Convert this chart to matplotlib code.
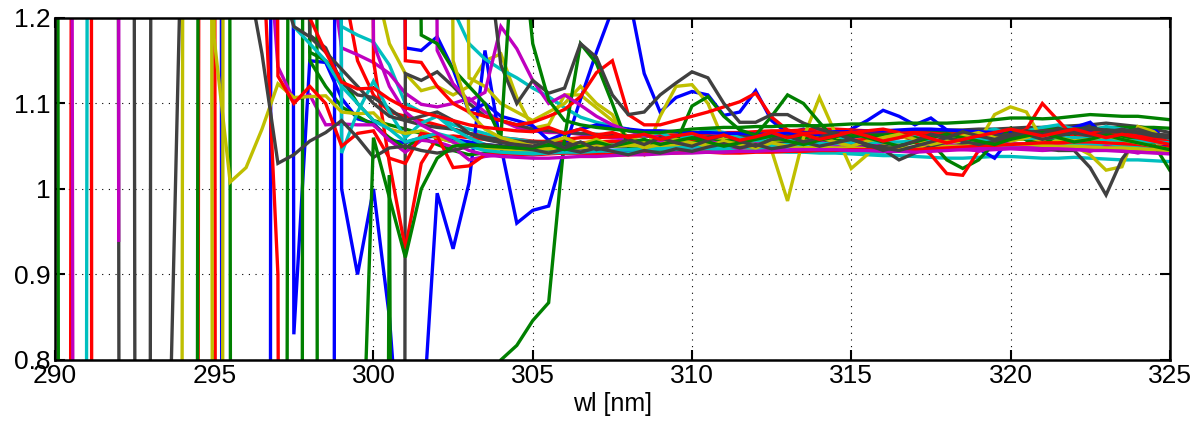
import numpy as np
import matplotlib
matplotlib.use("Agg")
import matplotlib.pyplot as plt

nan = np.nan

# wavelength grid of the ratio curves [nm]
wl = np.arange(290.0, 325.5, 0.5)

b1 = [12, 12, 12, 12, 12, 12, 12, 12, 12, 12,
      12, -12, -12, -12, 12, 0.83, 1.15, 1.148, 1.106, 1.082,
      1.077, 1.057, 1.054, 1.06, 1.062, 1.058, 1.055, 1.052, 1.05, 1.049,
      1.048, 1.048, 1.047, 1.046, 1.046, 1.045, 1.045, 1.044, 1.044, 1.045,
      1.052, 1.046, 1.055, 1.05, 1.058, 1.052, 1.06, 1.056, 1.062, 1.055,
      1.06, 1.064, 1.058, 1.066, 1.06, 1.062, 1.068, 1.06, 1.066, 1.058,
      1.065, 1.07, 1.064, 1.072, 1.068, 1.074, 1.066, 1.07, 1.06, 1.055, 1.05]
g1 = [5, -15, -15, -15, -15, -15, -15, -15, -15, -15,
      -15, -15, -15, -15, -5, 5, 1.16, 1.15, 1.13, 1.10,
      1.08, 1.075, 1.07, 1.065, 1.06, 1.055, 1.05, 1.05, 1.048, 1.047,
      1.047, 1.05, 1.05, 1.052, 1.055, 1.055, 1.056, 1.055, 1.055, 1.056,
      1.057, 1.058, 1.058, 1.06, 1.06, 1.06, 1.062, 1.062, 1.063, 1.062,
      1.062, 1.063, 1.063, 1.064, 1.065, 1.065, 1.063, 1.062, 1.063, 1.064,
      1.065, 1.066, 1.065, 1.064, 1.063, 1.062, 1.062, 1.061, 1.06, 1.058, 1.055]
r1 = [-12, 1.0, 12, -25, -25, -25, -25, -25, -12, 0.9,
      12, 12, 12, 12, 12, 12, 12, 5, 1.25, 1.15,
      1.11, 1.09, 1.085, 1.08, 1.075, 1.07, 1.065, 1.062, 1.06, 1.058,
      1.056, 1.055, 1.055, 1.054, 1.055, 1.056, 1.055, 1.054, 1.054, 1.056,
      1.055, 1.055, 1.056, 1.057, 1.056, 1.056, 1.057, 1.058, 1.058, 1.057,
      1.057, 1.058, 1.058, 1.06, 1.061, 1.062, 1.063, 1.064, 1.063, 1.063,
      1.064, 1.066, 1.068, 1.069, 1.07, 1.07, 1.069, 1.067, 1.066, 1.064, 1.062]
c1 = [nan, -12, 1.0, 12, 12, 12, 12, 12, 12, 12,
      12, 12, 12, 12, 12, 12, 5, 1.25, 1.19, 1.18,
      1.172, 1.145, 1.1, 1.09, 1.085, 1.075, 1.07, 1.065, 1.06, 1.058,
      1.055, 1.054, 1.052, 1.05, 1.049, 1.05, 1.05, 1.048, 1.047, 1.048,
      1.047, 1.046, 1.046, 1.045, 1.045, 1.044, 1.043, 1.043, 1.042, 1.042,
      1.041, 1.04, 1.039, 1.039, 1.038, 1.037, 1.036, 1.036, 1.037, 1.038,
      1.038, 1.037, 1.036, 1.036, 1.037, 1.036, 1.035, 1.034, 1.034, 1.033, 1.032]
m1 = [nan, 2.0, -8, -8, nan, nan, nan, nan, nan, nan,
      nan, nan, nan, nan, nan, nan, 8, 1.3, 1.165, 1.157,
      1.148, 1.135, 1.112, 1.099, 1.096, 1.1, 1.106, 1.09, 1.08, 1.072,
      1.068, 1.066, 1.066, 1.064, 1.062, 1.06, 1.058, 1.056, 1.055, 1.054,
      1.053, 1.052, 1.052, 1.051, 1.05, 1.05, 1.049, 1.049, 1.05, 1.05,
      1.05, 1.049, 1.048, 1.048, 1.049, 1.05, 1.05, 1.051, 1.052, 1.052,
      1.053, 1.053, 1.052, 1.052, 1.051, 1.05, 1.05, 1.049, 1.048, 1.047, 1.046]
y1 = [-12, -12, -12, -12, -12, -12, -12, -12, 1.0, 12,
      12, 12, 12, 12, 12, 12, 12, 12, 12, 12,
      1.25, 1.17, 1.135, 1.115, 1.12, 1.11, 1.12, 1.15, 1.158, 1.107,
      1.071, 1.075, 1.11, 1.11, 1.095, 1.08, 1.06, 1.055, 1.06, 1.065,
      1.066, 1.062, 1.058, 1.057, 1.057, 1.056, 1.055, 1.054, 1.054, 1.053,
      1.053, 1.052, 1.053, 1.054, 1.054, 1.055, 1.055, 1.056, 1.056, 1.057,
      1.058, 1.058, 1.057, 1.057, 1.056, 1.056, 1.055, 1.055, 1.054, 1.054, 1.053]
k1 = [12, 12, 12, 12, 1.0, -12, -12, -12, -12, -12,
      -12, -12, -12, -12, -12, -12, -12, -12, -12, -12,
      -12, -12, 1.135, 1.127, 1.137, 1.12, 1.1, 1.085, 1.08, 1.075,
      1.07, 1.068, 1.066, 1.065, 1.064, 1.063, 1.062, 1.062, 1.061, 1.06,
      1.06, 1.061, 1.062, 1.062, 1.063, 1.063, 1.064, 1.064, 1.065, 1.065,
      1.066, 1.066, 1.066, 1.067, 1.068, 1.068, 1.069, 1.069, 1.07, 1.07,
      1.071, 1.072, 1.072, 1.073, 1.074, 1.075, 1.077, 1.075, 1.073, 1.07, 1.066]
b2 = [12, 12, 12, 12, 12, 12, 12, 12, 12, 12,
      12, 12, 12, 12, 12, 12, 12, 12, 1.0, 0.90,
      1.0, 0.85, 0.6, 0.7, 0.995, 0.93, 1.007, 1.162, 1.05, 0.96,
      0.975, 0.98, 1.047, 1.105, 1.16, 1.21, 1.23, 1.135, 1.09, 1.107,
      1.114, 1.11, 1.086, 1.09, 1.115, 1.08, 1.065, 1.07, 1.062, 1.06,
      1.07, 1.08, 1.092, 1.085, 1.075, 1.083, 1.069, 1.055, 1.047, 1.036,
      1.06, 1.065, 1.063, 1.067, 1.072, 1.078, 1.06, 1.062, 1.055, 1.071, 1.05]
g2 = [-12, -12, -12, -12, -12, -12, -12, -12, -12, 1.5,
      12, 12, 12, 12, 12, 5, 1.15, 1.12, 1.096, 1.085,
      1.075, 1.06, 1.048, 1.06, 1.052, 1.045, 1.04, 1.042, 1.043, 1.044,
      1.045, 1.046, 1.047, 1.048, 1.049, 1.05, 1.051, 1.052, 1.052, 1.053,
      1.054, 1.055, 1.056, 1.057, 1.057, 1.058, 1.059, 1.06, 1.06, 1.061,
      1.062, 1.062, 1.063, 1.064, 1.064, 1.065, 1.066, 1.066, 1.067, 1.067,
      1.068, 1.068, 1.069, 1.07, 1.07, 1.071, 1.071, 1.072, 1.072, 1.072, 1.071]
r2 = [10, 10, 10, 10, 10, 10, 10, 10, 10, 10,
      2.0, -18, nan, nan, nan, nan, nan, nan, nan, 6,
      1.15, 1.03, 0.93, 1.03, 1.06, 1.062, 1.06, 1.058, 1.056, 1.055,
      1.055, 1.056, 1.058, 1.06, 1.06, 1.061, 1.062, 1.062, 1.063, 1.063,
      1.064, 1.065, 1.066, 1.066, 1.067, 1.068, 1.068, 1.069, 1.07, 1.07,
      1.069, 1.068, 1.068, 1.067, 1.066, 1.065, 1.064, 1.065, 1.066, 1.066,
      1.067, 1.068, 1.068, 1.067, 1.066, 1.065, 1.064, 1.063, 1.062, 1.06, 1.058]
c2 = [3, 3, 3, 3, 3, 3, 3, 3, 3, 3,
      3, 3, 3, 3, 3, 3, 3, 3, 3, 3,
      3, 3, 3, 3, 3, 1.21, 1.17, 1.152, 1.14, 1.13,
      1.118, 1.108, 1.095, 1.084, 1.078, 1.074, 1.07, 1.062, 1.066, 1.058,
      1.063, 1.07, 1.066, 1.06, 1.055, 1.062, 1.058, 1.052, 1.057, 1.062,
      1.056, 1.05, 1.055, 1.06, 1.064, 1.058, 1.054, 1.06, 1.066, 1.07,
      1.064, 1.068, 1.072, 1.075, 1.07, 1.068, 1.073, 1.07, 1.066, 1.062, 1.058]
m2 = [nan, nan, nan, nan, 0.94, 60, 5, 5, 5, 5,
      5, 5, 5, 1.4, 1.143, 1.104, 1.11, 1.075, 1.076, 1.075,
      1.075, 1.057, 1.043, 1.057, 1.055, 1.049, 1.034, 1.038, 1.04, 1.042,
      1.04, 1.042, 1.045, 1.044, 1.043, 1.045, 1.046, 1.045, 1.044, 1.046,
      1.047, 1.046, 1.045, 1.046, 1.047, 1.046, 1.045, 1.046, 1.047, 1.046,
      1.045, 1.046, 1.045, 1.044, 1.045, 1.046, 1.047, 1.046, 1.045, 1.046,
      1.047, 1.046, 1.045, 1.046, 1.047, 1.048, 1.047, 1.046, 1.045, 1.044, 1.043]
y2 = [12, 12, 12, 12, 12, 12, 12, 12, 12, 12,
      -0.8, -5, nan, nan, nan, nan, nan, nan, nan, nan,
      nan, nan, nan, nan, nan, 3, 1.13, 1.12, 1.10, 1.09,
      1.08, 1.09, 1.1, 1.12, 1.1, 1.087, 1.053, 1.04, 1.085, 1.12,
      1.122, 1.10, 1.056, 1.048, 1.045, 1.045, 0.986, 1.06, 1.107, 1.065,
      1.024, 1.04, 1.06, 1.063, 1.055, 1.052, 1.05, 1.052, 1.055, 1.087,
      1.096, 1.09, 1.057, 1.055, 1.05, 1.04, 1.022, 1.026, 1.073, 1.067, 1.052]
k2 = [12, 12, 12, 12, 12, 1.0, -12, nan, nan, nan,
      nan, nan, nan, nan, nan, 6, 1.18, 1.165, 1.124, 1.11,
      1.107, 1.094, 1.08, 1.075, 1.072, 1.07, 1.065, 1.06, 1.058, 1.056,
      1.055, 1.054, 1.053, 1.052, 1.052, 1.051, 1.05, 1.05, 1.049, 1.05,
      1.05, 1.051, 1.052, 1.053, 1.052, 1.053, 1.054, 1.055, 1.055, 1.054,
      1.053, 1.052, 1.05, 1.048, 1.047, 1.048, 1.05, 1.052, 1.053, 1.052,
      1.051, 1.05, 1.048, 1.045, 1.045, 1.025, 0.993, 1.035, 1.06, 1.062, 1.06]
b3 = [-10, -10, -10, -10, -10, -10, -10, -10, -10, -10,
      -10, -10, -10, -10, -10, -10, -10, -10, 10, 10,
      10, 5, 1.165, 1.162, 1.178, 1.14, 1.09, 1.1, 1.085, 1.08,
      1.074, 1.057, 1.065, 1.07, 1.075, 1.072, 1.07, 1.068, 1.068, 1.067,
      1.066, 1.066, 1.065, 1.065, 1.064, 1.064, 1.065, 1.066, 1.066, 1.067,
      1.067, 1.068, 1.068, 1.069, 1.07, 1.07, 1.069, 1.068, 1.067, 1.066,
      1.066, 1.066, 1.067, 1.067, 1.068, 1.068, 1.066, 1.064, 1.062, 1.058, 1.055]
g3 = [12, 12, 12, 12, 12, 12, 12, 12, 12, 12,
      12, 1.0, -12, -12, -12, -12, 12, -12, -12, -12,
      -3, 1.016, -3, -5, -5, -5, -2, 0.4, 0.8, 0.817,
      0.846, 0.867, 1.06, 1.17, 1.147, 1.1, 1.05, 1.047, 1.043, 1.054,
      1.097, 1.108, 1.085, 1.069, 1.063, 1.085, 1.11, 1.1, 1.078, 1.057,
      1.055, 1.05, 1.045, 1.05, 1.06, 1.055, 1.034, 1.024, 1.034, 1.054,
      1.071, 1.057, 1.052, 1.063, 1.069, 1.071, 1.067, 1.061, 1.057, 1.052, 1.022]
r3 = [nan, nan, nan, nan, nan, nan, nan, nan, nan, nan,
      nan, nan, 5, 1.3, 0.9, -5, nan, nan, nan, nan,
      nan, 5, 1.15, 1.148, 1.12, 1.1, 1.09, 1.085, 1.08, 1.075,
      1.078, 1.085, 1.093, 1.108, 1.136, 1.15, 1.087, 1.075, 1.075, 1.08,
      1.085, 1.09, 1.096, 1.102, 1.112, 1.084, 1.069, 1.065, 1.066, 1.065,
      1.066, 1.068, 1.07, 1.066, 1.055, 1.04, 1.018, 1.016, 1.045, 1.055,
      1.06, 1.07, 1.1, 1.08, 1.06, 1.065, 1.068, 1.065, 1.062, 1.06, 1.055]
c3 = [8, 8, 8, 8, 8, 8, 8, 8, 8, 8,
      8, 8, 8, 8, 8, 8, 8, 8, 1.042, 1.09,
      1.126, 1.09, 1.06, 1.077, 1.085, 1.07, 1.06, 1.052, 1.048, 1.045,
      1.044, 1.043, 1.042, 1.042, 1.041, 1.041, 1.042, 1.043, 1.043, 1.044,
      1.045, 1.046, 1.047, 1.048, 1.048, 1.047, 1.046, 1.045, 1.045, 1.044,
      1.044, 1.043, 1.043, 1.044, 1.045, 1.046, 1.047, 1.048, 1.049, 1.05,
      1.05, 1.051, 1.052, 1.052, 1.053, 1.053, 1.052, 1.051, 1.05, 1.048, 1.046]
m3 = [5, 5, 5, 5, 5, 5, 5, 5, 5, 5,
      5, 5, 5, 5, 5, 5, 5, 5, 5, 5,
      5, 5, 5, 5, 1.162, 1.123, 1.103, 1.113, 1.19, 1.164,
      1.127, 1.1, 1.11, 1.098, 1.085, 1.075, 1.068, 1.063, 1.06, 1.055,
      1.05, 1.056, 1.052, 1.047, 1.053, 1.05, 1.045, 1.05, 1.055, 1.05,
      1.046, 1.051, 1.055, 1.05, 1.044, 1.048, 1.053, 1.049, 1.044, 1.05,
      1.055, 1.05, 1.046, 1.052, 1.048, 1.044, 1.05, 1.046, 1.042, 1.047, 1.043]
y3 = [5, 5, 5, 5, 5, 5, 5, 5, 5, 5,
      1.176, 1.008, 1.025, 1.07, 1.123, 1.107, 1.108, 1.109, 1.09, 1.088,
      1.089, 1.07, 1.065, 1.068, 1.06, 1.055, 1.05, 1.048, 1.047, 1.046,
      1.046, 1.047, 1.048, 1.048, 1.05, 1.05, 1.051, 1.05, 1.05, 1.051,
      1.052, 1.052, 1.053, 1.052, 1.052, 1.051, 1.05, 1.05, 1.049, 1.048,
      1.048, 1.047, 1.047, 1.048, 1.048, 1.049, 1.05, 1.05, 1.051, 1.051,
      1.052, 1.052, 1.051, 1.05, 1.05, 1.049, 1.048, 1.048, 1.047, 1.046, 1.045]
k3 = [-15, -15, -15, -15, -15, -15, 1.0, 15, 15, 15,
      15, 15, 15, 15, 15, 15, 15, 15, 15, 15,
      15, 15, 15, 15, 15, 15, 5, 1.3, 1.145, 1.10,
      1.127, 1.112, 1.118, 1.17, 1.154, 1.11, 1.087, 1.09, 1.11, 1.124,
      1.137, 1.13, 1.10, 1.078, 1.078, 1.087, 1.087, 1.077, 1.07, 1.065,
      1.058, 1.05, 1.046, 1.034, 1.042, 1.05, 1.055, 1.058, 1.06, 1.062,
      1.064, 1.066, 1.068, 1.068, 1.07, 1.07, 1.069, 1.068, 1.066, 1.064, 1.063]
g4 = [3, 3, 3, 3, 3, 3, 3, 3, 3, 3,
      3, 3, 3, 3, 3, 3, 3, 3, 3, 3,
      3, 3, 3, 1.18, 1.17, 1.14, 1.12, 1.10, 1.06, 1.35,
      1.17, 1.104, 1.08, 1.075, 1.072, 1.07, 1.068, 1.066, 1.066, 1.068,
      1.07, 1.071, 1.072, 1.072, 1.073, 1.073, 1.074, 1.074, 1.074, 1.075,
      1.076, 1.076, 1.076, 1.077, 1.077, 1.077, 1.077, 1.078, 1.079, 1.081,
      1.083, 1.083, 1.082, 1.083, 1.085, 1.087, 1.086, 1.085, 1.085, 1.083, 1.081]
r4 = [5, 5, 5, 5, 5, 5, 5, 5, 5, 5,
      5, 5, 5, 5, 1.132, 1.1, 1.12, 1.1, 1.05, 1.065,
      1.068, 1.036, 1.03, 1.065, 1.062, 1.025, 1.027, 1.04, 1.042, 1.04,
      1.04, 1.041, 1.042, 1.042, 1.041, 1.04, 1.04, 1.041, 1.042, 1.042,
      1.043, 1.043, 1.042, 1.042, 1.043, 1.043, 1.044, 1.044, 1.045, 1.045,
      1.046, 1.046, 1.045, 1.045, 1.046, 1.047, 1.048, 1.049, 1.05, 1.051,
      1.052, 1.053, 1.054, 1.054, 1.055, 1.055, 1.054, 1.053, 1.052, 1.05, 1.048]
c4 = [3, 3, 3, 3, 3, 3, 3, 3, 3, 3,
      3, 3, 3, 3, 3, 1.19, 1.17, 1.15, 1.12, 1.1,
      1.08, 1.07, 1.055, 1.06, 1.065, 1.06, 1.05, 1.045, 1.043, 1.042,
      1.041, 1.042, 1.043, 1.043, 1.044, 1.045, 1.046, 1.047, 1.047, 1.048,
      1.049, 1.05, 1.05, 1.05, 1.051, 1.051, 1.052, 1.052, 1.053, 1.053,
      1.054, 1.054, 1.055, 1.055, 1.056, 1.056, 1.057, 1.057, 1.058, 1.058,
      1.059, 1.059, 1.06, 1.06, 1.06, 1.059, 1.058, 1.057, 1.056, 1.055, 1.054]
m4 = [5, 5, 5, 5, 5, 5, 5, 5, 5, 5,
      5, 5, 5, 5, 5, 5, 5, 5, 5, 5,
      1.17, 1.12, 1.09, 1.075, 1.065, 1.055, 1.045, 1.04, 1.038, 1.037,
      1.036, 1.036, 1.037, 1.038, 1.038, 1.039, 1.04, 1.04, 1.041, 1.042,
      1.042, 1.043, 1.043, 1.044, 1.044, 1.045, 1.045, 1.046, 1.046, 1.046,
      1.045, 1.045, 1.044, 1.044, 1.043, 1.044, 1.045, 1.046, 1.047, 1.047,
      1.048, 1.048, 1.047, 1.047, 1.046, 1.045, 1.045, 1.044, 1.043, 1.042, 1.041]
y4 = [-12, -12, -12, -12, -12, -12, -12, -12, -12, -12,
      -12, 12, 12, 12, 12, 12, 12, 12, 12, 12,
      12, 12, 12, 12, 4, 1.15, 1.09, 1.07, 1.06, 1.055,
      1.05, 1.055, 1.06, 1.052, 1.058, 1.05, 1.055, 1.048, 1.052, 1.058,
      1.054, 1.05, 1.056, 1.052, 1.048, 1.054, 1.05, 1.055, 1.06, 1.055,
      1.05, 1.056, 1.06, 1.064, 1.058, 1.052, 1.056, 1.062, 1.066, 1.06,
      1.056, 1.06, 1.065, 1.06, 1.056, 1.058, 1.062, 1.058, 1.054, 1.05, 1.046]
k4 = [-5, -5, -5, -5, -5, -5, -5, 0.55, 1.35, 2,
      3, 1.5, 1.26, 1.158, 1.03, 1.04, 1.056, 1.066, 1.08, 1.06,
      1.037, 1.048, 1.05, 1.045, 1.042, 1.045, 1.05, 1.052, 1.05, 1.048,
      1.046, 1.042, 1.047, 1.043, 1.048, 1.044, 1.04, 1.045, 1.042, 1.047,
      1.044, 1.049, 1.053, 1.048, 1.052, 1.047, 1.05, 1.055, 1.05, 1.054,
      1.058, 1.052, 1.048, 1.045, 1.05, 1.055, 1.06, 1.056, 1.052, 1.056,
      1.06, 1.064, 1.058, 1.062, 1.066, 1.062, 1.066, 1.07, 1.066, 1.062, 1.06]
g5 = [-5, -5, -5, -5, -5, -5, -5, -5, -5, -5,
      -5, -5, -5, -5, -5, -5, -5, -5, -5, 0.5,
      1.06, 0.99, 0.92, 1.0, 1.036, 1.05, 1.052, 1.05, 1.049, 1.048,
      1.048, 1.052, 1.046, 1.05, 1.055, 1.05, 1.054, 1.058, 1.052, 1.056,
      1.06, 1.055, 1.05, 1.054, 1.058, 1.062, 1.056, 1.052, 1.057, 1.061,
      1.066, 1.06, 1.055, 1.05, 1.055, 1.06, 1.064, 1.06, 1.056, 1.052,
      1.058, 1.062, 1.066, 1.06, 1.055, 1.058, 1.063, 1.058, 1.054, 1.05, 1.046]
k5 = [5, 5, 5, 5, 5, 5, 5, 5, 5, 5,
      5, 5, 5, 5, 1.25, 1.19, 1.178, 1.16, 1.14, 1.12,
      1.10, 1.085, 1.08, 1.085, 1.09, 1.08, 1.065, 1.058, 1.054, 1.052,
      1.05, 1.056, 1.048, 1.055, 1.046, 1.05, 1.058, 1.052, 1.06, 1.054,
      1.05, 1.057, 1.063, 1.056, 1.05, 1.058, 1.062, 1.055, 1.06, 1.066,
      1.058, 1.052, 1.045, 1.05, 1.056, 1.064, 1.06, 1.067, 1.062, 1.058,
      1.063, 1.068, 1.064, 1.07, 1.066, 1.072, 1.068, 1.066, 1.07, 1.064, 1.06]
r5 = [5, 5, 5, 5, 5, 5, 5, 5, 5, 5,
      5, 5, 5, 5, 5, 5, 1.2, 1.16, 1.125, 1.117,
      1.118, 1.105, 1.095, 1.09, 1.085, 1.08, 1.075, 1.072, 1.07, 1.068,
      1.067, 1.072, 1.065, 1.07, 1.063, 1.066, 1.06, 1.064, 1.058, 1.062,
      1.065, 1.059, 1.063, 1.057, 1.061, 1.066, 1.06, 1.064, 1.058, 1.062,
      1.067, 1.062, 1.056, 1.06, 1.065, 1.059, 1.054, 1.058, 1.062, 1.066,
      1.07, 1.066, 1.062, 1.066, 1.07, 1.065, 1.06, 1.064, 1.06, 1.056, 1.052]

COLORS = {
    "b": (0.0, 0.0, 1.0),
    "g": (0.0, 0.5, 0.0),
    "r": (1.0, 0.0, 0.0),
    "c": (0.0, 0.75, 0.75),
    "m": (0.75, 0.0, 0.75),
    "y": (0.75, 0.75, 0.0),
    "k": (0.25, 0.25, 0.25),
}

# plotted in MATLAB colour-cycle order
curves = [
    ("b", b1), ("g", g1), ("r", r1), ("c", c1), ("m", m1), ("y", y1), ("k", k1),
    ("b", b2), ("g", g2), ("r", r2), ("c", c2), ("m", m2), ("y", y2), ("k", k2),
    ("b", b3), ("g", g3), ("r", r3), ("c", c3), ("m", m3), ("y", y3), ("k", k3),
    ("g", g4), ("r", r4), ("c", c4), ("m", m4), ("y", y4), ("k", k4),
    ("g", g5), ("k", k5), ("r", r5),
]

plt.rcParams["font.family"] = ["Liberation Sans", "DejaVu Sans"]

fig = plt.figure(figsize=(12, 4.28), dpi=100)
ax = fig.add_axes([0.0458, 0.159, 0.929, 0.799])

for key, vals in curves:
    ax.plot(wl, np.asarray(vals, dtype=float), color=COLORS[key], lw=2.4,
            solid_joinstyle="miter")

ax.set_xlim(290, 325)
ax.set_ylim(0.8, 1.2)
ax.set_xticks([290, 295, 300, 305, 310, 315, 320, 325])
ax.set_yticks([0.8, 0.9, 1.0, 1.1, 1.2])
ax.set_yticklabels(["0.8", "0.9", "1", "1.1", "1.2"])
ax.grid(True, color="black", linestyle=(0, (1, 5)), linewidth=0.8)
ax.tick_params(direction="in", length=7, width=1.5, top=True, right=True,
               labelsize=19, pad=3)
for sp in ax.spines.values():
    sp.set_linewidth(1.8)
ax.set_xlabel("wl [nm]", fontsize=18, labelpad=3)

fig.savefig("out.png", dpi=100)
